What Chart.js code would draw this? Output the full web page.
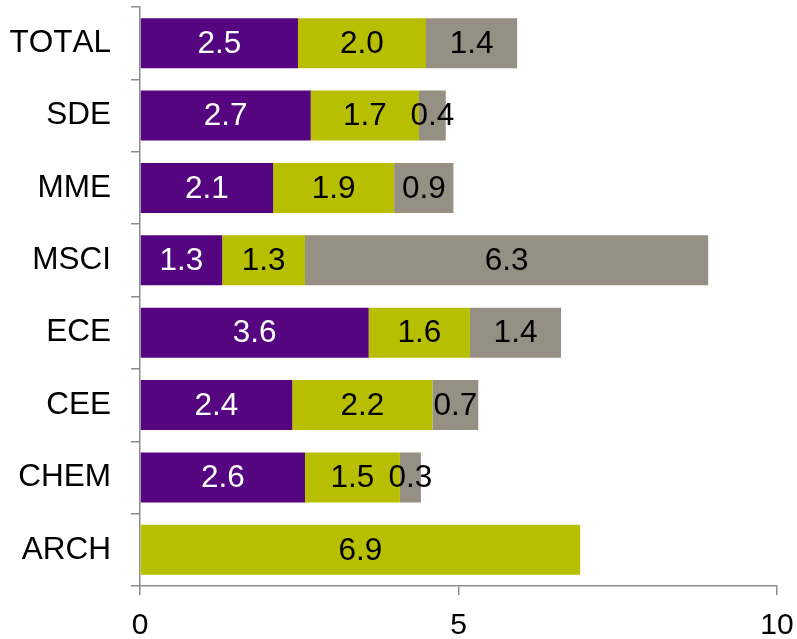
<!DOCTYPE html>
<html>
<head>
<meta charset="utf-8">
<script src="https://cdn.jsdelivr.net/npm/chart.js@4/dist/chart.umd.min.js"></script>
<style>
  html, body { margin: 0; padding: 0; background: #fff; }
  #wrap { width: 797px; height: 639px; }
</style>
</head>
<body>
<div id="wrap"><canvas id="chart"></canvas></div>
<script>
const categories = ['TOTAL', 'SDE', 'MME', 'MSCI', 'ECE', 'CEE', 'CHEM', 'ARCH'];
const series1 = [2.48, 2.68, 2.09, 1.29, 3.59, 2.39, 2.59, 0];
const series2 = [2.01, 1.70, 1.90, 1.30, 1.59, 2.20, 1.49, 6.91];
const series3 = [1.43, 0.42, 0.93, 6.33, 1.43, 0.72, 0.33, 0];
const xTicks = [0, 5, 10];

const colors = {
    purple: '#55057f',
    olive: '#b8bf00',
    grey: '#968f84'
};
const font = "'Liberation Sans', Arial, sans-serif";

// no kerning, the original text is laid out without it
const noKerning = {
    id: 'noKerning',
    beforeDraw(chart) {
        chart.ctx.fontKerning = 'none';
    }
};

// write each segment's value in the middle of the segment
const valueLabels = {
    id: 'valueLabels',
    afterDatasetsDraw(chart) {
        const ctx = chart.ctx;
        ctx.save();
        ctx.font = '31.5px ' + font;
        ctx.textAlign = 'center';
        ctx.textBaseline = 'middle';
        chart.data.datasets.forEach(function (ds, i) {
            const meta = chart.getDatasetMeta(i);
            meta.data.forEach(function (bar, j) {
                const v = ds.data[j];
                if (!v) return;
                ctx.fillStyle = i === 0 ? '#ffffff' : '#000000';
                ctx.fillText(v.toFixed(1), (bar.x + bar.base) / 2, bar.y + 1);
            });
        });
        ctx.restore();
    }
};

const ctx = document.getElementById('chart').getContext('2d');
const chart = new Chart(ctx, {
    type: 'bar',
    data: {
        labels: categories,
        datasets: [
            { label: 'A', data: series1, backgroundColor: colors.purple },
            { label: 'B', data: series2, backgroundColor: colors.olive },
            { label: 'C', data: series3, backgroundColor: colors.grey }
        ]
    },
    options: {
        indexAxis: 'y',
        responsive: true,
        maintainAspectRatio: false,
        animation: false,
        events: [],
        layout: { padding: { top: 7, right: 20, bottom: 0, left: 0 } },
        datasets: {
            bar: { categoryPercentage: 1, barPercentage: 0.69 }
        },
        plugins: {
            legend: { display: false },
            tooltip: { enabled: false }
        },
        scales: {
            x: {
                stacked: true,
                min: 0,
                max: 10,
                afterBuildTicks: function (scale) {
                    scale.ticks = xTicks.map(function (v) { return { value: v }; });
                },
                afterFit: function (scale) {
                    scale.height = 53;
                    scale.paddingLeft = 0;
                    scale.paddingRight = 0;
                },
                grid: { drawOnChartArea: false, drawTicks: true, tickLength: 9, color: '#8c8c8c', lineWidth: 1.5 },
                border: { display: true, color: '#8c8c8c', width: 1.5 },
                ticks: { color: '#000', padding: 13, font: { family: font, size: 30 } }
            },
            y: {
                stacked: true,
                afterFit: function (scale) {
                    scale.width = 140;
                    scale.paddingTop = 0;
                    scale.paddingBottom = 0;
                },
                grid: { drawOnChartArea: false, drawTicks: true, tickLength: 9, color: '#8c8c8c', lineWidth: 1.5 },
                border: { display: true, color: '#8c8c8c', width: 1.5 },
                ticks: { color: '#000', padding: 20, font: { family: font, size: 31.5 } }
            }
        }
    },
    plugins: [noKerning, valueLabels]
});
</script>
</body>
</html>
